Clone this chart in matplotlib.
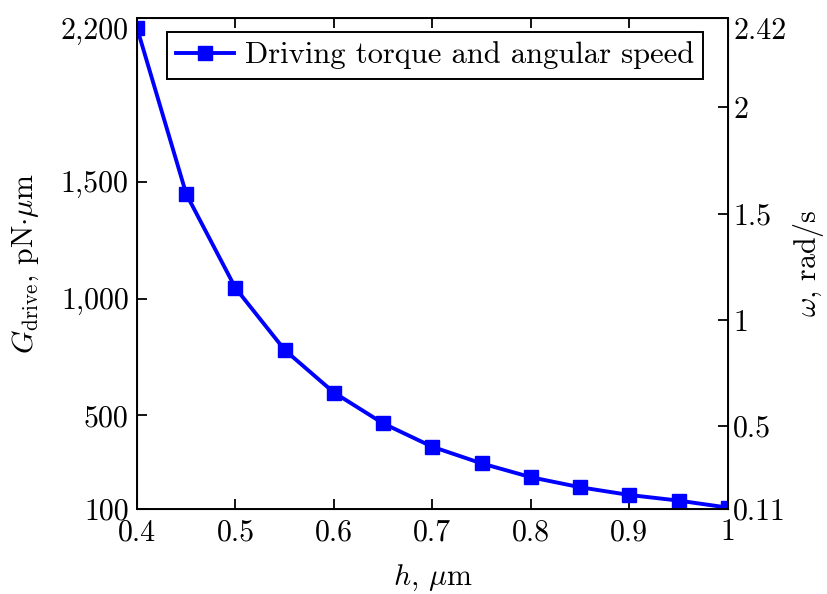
import matplotlib
matplotlib.use("Agg")
import matplotlib.pyplot as plt
from matplotlib.ticker import FixedLocator, FuncFormatter

plt.rcParams['font.family'] = ['cmr10', 'DejaVu Serif']
plt.rcParams['mathtext.fontset'] = 'cm'
plt.rcParams['axes.unicode_minus'] = False

h = [0.4, 0.45, 0.5, 0.55, 0.6, 0.65, 0.7, 0.75, 0.8, 0.85, 0.9, 0.95, 1.0]
G_drive = [2157, 1447, 1045, 780, 598, 466, 366, 295, 236, 193, 160, 136, 106]
left_ticks = [100, 500, 1000, 1500, 2200]
right_ticks = [0.11, 0.5, 1, 1.5, 2, 2.42]
x_ticks = [0.4, 0.5, 0.6, 0.7, 0.8, 0.9, 1.0]

FS = 21.5

fig = plt.figure(figsize=(8.27, 5.94), dpi=100)
ax = fig.add_axes([0.1657, 0.1431, 0.880 - 0.1657, 0.9697 - 0.1431])
ax.plot(h, G_drive, color='#0000ff', lw=2.8, marker='s', ms=10.5,
        label='Driving torque and angular speed')
ax.set_xlim(0.4, 1.0)
ax.set_ylim(100, 2200)
ax.xaxis.set_major_locator(FixedLocator(x_ticks))
ax.xaxis.set_major_formatter(FuncFormatter(lambda v, p: '1' if abs(v - 1) < 1e-9 else f'{v:.1f}'))
ax.yaxis.set_major_locator(FixedLocator(left_ticks))
ax.yaxis.set_major_formatter(FuncFormatter(lambda v, p: f'{int(round(v)):,}'))
ax.tick_params(axis='x', direction='in', top=True, labelsize=FS, length=7, width=1.3, pad=7)
ax.tick_params(axis='y', direction='in', right=False, labelsize=FS, length=7, width=1.3, pad=6)
for s in ax.spines.values():
    s.set_linewidth(1.4)
ax.set_xlabel(r'$h$, $\mu$m', fontsize=FS, labelpad=12)
ax.set_ylabel(r'$G_{\mathrm{drive}}$, pN$\cdot\mu$m', fontsize=FS, labelpad=14)

ax2 = ax.twinx()
ax2.set_ylim(0.11, 2.42)
ax2.yaxis.set_major_locator(FixedLocator(right_ticks))
ax2.yaxis.set_major_formatter(FuncFormatter(lambda v, p: f'{v:g}'))
ax2.tick_params(axis='y', direction='in', labelsize=FS, length=7, width=1.3, pad=4)
ax2.set_ylabel(r'$\omega$, rad/s', fontsize=FS, rotation=90, labelpad=3)

leg = ax.legend(loc='upper right', fontsize=22, frameon=True, fancybox=False,
                edgecolor='black', framealpha=1, borderpad=0.3, handlelength=1.9,
                handletextpad=0.35, borderaxespad=0.0,
                bbox_to_anchor=(0.958, 0.971))
leg.get_frame().set_linewidth(1.4)

fig.canvas.draw()
ax.get_yticklabels()[-1].set_va('top')
ax2.get_yticklabels()[-1].set_va('top')

fig.savefig('out.png', dpi=100)
